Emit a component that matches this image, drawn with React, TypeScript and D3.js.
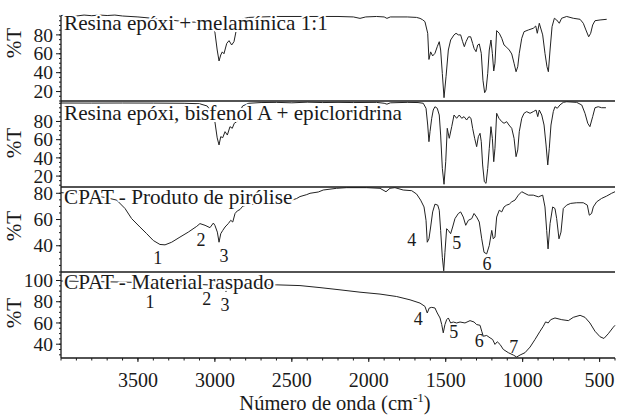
import React from "react";
import * as d3 from "d3";

type Pt = [number, number];

const xTicks = [3500, 3000, 2500, 2000, 1500, 1000, 500];

const titles = [
  "Resina epóxi + melamínica 1:1",
  "Resina epóxi, bisfenol A + epicloridrina",
  "CPAT - Produto de pirólise",
  "CPAT - Material raspado",
];

const yTicks1 = [20, 40, 60, 80];
const yTicks2 = [20, 40, 60, 80];
const yTicks3 = [40, 60, 80];
const yTicks4 = [40, 60, 80, 100];

const spec1: Pt[] = [
  [4000,100.5],[3950,101],[3900,100],[3850,101],[3800,100.3],[3750,101],[3700,100.5],[3650,101],[3600,100],[3500,99],[3400,97.5],[3300,96],[3200,94],[3150,93.5],[3100,93.5],[3060,92],[3030,89],[3010,85],[3000,83],[2985,64],[2973,52.4],[2962,58.7],[2952,62],[2941,60],[2923,71],[2908,73.9],[2891,69.3],[2876,72.8],[2863,83.4],[2854,88.7],[2840,94],[2820,97],[2780,98.5],[2700,99],[2600,99.5],[2400,99.5],[2200,99.5],[2100,99],[2057,97.5],[2020,99],[1950,99.5],[1900,99],[1882,97.5],[1860,99],[1750,99],[1690,98.5],[1667,97.5],[1650,96],[1635,94],[1617,81.7],[1609,54],[1598,62],[1585,57.7],[1570,60.5],[1555,67.5],[1542,72.8],[1533,64],[1522,39],[1511,13.5],[1498,35.7],[1483,64],[1468,74.6],[1446,80],[1433,81.7],[1418,80],[1403,80],[1390,72.8],[1379,67.5],[1368,72.8],[1353,78],[1338,78],[1325,71],[1316,65.8],[1303,62.2],[1292,69.3],[1282,70.4],[1269,60.5],[1258,32],[1247,18.8],[1238,21.6],[1227,39.3],[1217,64],[1206,74.6],[1197,60.5],[1188,41.8],[1180,50],[1169,84.5],[1152,81.7],[1136,76.4],[1121,69.3],[1104,66.9],[1087,64],[1071,59.8],[1056,50],[1043,41],[1032,46.3],[1022,60.5],[1006,76.4],[991,83.4],[963,85.2],[931,87],[915,89.4],[905,81.7],[892,92.3],[870,80],[855,60.5],[842,46.3],[833,41],[822,64],[809,88.7],[794,97.6],[779,95.8],[762,92.3],[747,97.6],[714,99.5],[671,97.6],[627,96.5],[606,92.3],[589,85.2],[571,78],[558,81.7],[545,90.5],[530,95],[497,95.8],[454,96.5],
];

const spec2: Pt[] = [
  [4000,100.3],[3800,100.2],[3600,100.3],[3400,100.2],[3200,100],[3100,99.5],[3050,97],[3020,90],[3000,79.8],[2985,62],[2973,54.2],[2962,63.3],[2949,62.2],[2934,68.8],[2919,65.1],[2902,74.3],[2887,72.5],[2874,78],[2858,79.8],[2840,90],[2820,97],[2780,100],[2700,100.8],[2600,101],[2500,100.5],[2400,101.2],[2300,100.8],[2200,101],[2100,100.8],[1950,101],[1900,100],[1882,99],[1860,100.5],[1750,101],[1680,100.8],[1646,100],[1628,94.5],[1617,76.1],[1609,57.8],[1602,68.8],[1591,83.5],[1581,92.6],[1570,96.2],[1555,94.5],[1542,87.1],[1533,65.1],[1522,28.5],[1511,11],[1500,35.8],[1490,72.5],[1477,61.5],[1461,74.3],[1446,87.1],[1429,83.5],[1412,87.1],[1396,83.5],[1381,85.3],[1364,81.6],[1349,85.3],[1336,83.5],[1325,72.5],[1312,61.5],[1299,52.3],[1288,63.3],[1277,67],[1269,57.8],[1260,32.2],[1249,13.8],[1238,12],[1227,28.5],[1217,50.5],[1206,74.3],[1197,61.5],[1188,35.8],[1180,50.5],[1169,89],[1154,83.5],[1136,79.8],[1121,78],[1104,79.8],[1089,76.1],[1071,72.5],[1056,61.5],[1043,41.3],[1032,48.7],[1022,68.8],[1006,83.5],[991,89],[974,90.8],[952,89],[931,90.8],[913,92.6],[902,85.3],[892,92.6],[876,87.1],[861,76.1],[848,54.2],[837,32.2],[827,50.5],[816,76.1],[801,90.8],[790,96.2],[775,94.5],[758,98.1],[736,101],[714,101.7],[649,101],[616,98.1],[595,89],[577,78],[563,74.3],[545,85.3],[530,95.1],[509,96.2],[487,95.1],[459,95.1],
];

const spec3: Pt[] = [
  [4000,80.5],[3900,79.5],[3800,78.5],[3700,76.5],[3638,74.8],[3584,68.4],[3541,60.7],[3487,54.3],[3443,49.2],[3400,44],[3357,41],[3324,40.7],[3281,42.7],[3227,46.6],[3173,50.4],[3118,54.8],[3097,56.9],[3064,55.6],[3032,53.8],[3010,57.3],[3000,55.6],[2984,50.4],[2973,42.7],[2962,49.2],[2949,51.7],[2934,54.3],[2913,56.9],[2897,59.4],[2884,58.1],[2869,64.6],[2854,66.6],[2837,67.6],[2819,70.2],[2793,71],[2750,71.7],[2685,72],[2600,73],[2520,74],[2469,76],[2447,77.5],[2403,79],[2382,80],[2328,81],[2296,82.5],[2209,83.8],[2144,84.3],[2014,84.3],[1927,83.8],[1888,81.2],[1862,83.8],[1830,84.3],[1776,82.5],[1721,82],[1689,79.4],[1663,74.8],[1641,69.6],[1628,59.4],[1620,42.7],[1609,45.3],[1598,54.3],[1585,65.8],[1570,71.7],[1552,71],[1542,67.1],[1533,51.7],[1522,31.2],[1513,20.9],[1505,35],[1494,53],[1483,51.7],[1468,49.2],[1455,54.3],[1440,60.7],[1418,64.6],[1403,65.8],[1386,61.9],[1370,55.6],[1353,59.4],[1331,60.7],[1316,64.6],[1299,61.9],[1282,58.1],[1266,45.3],[1251,35],[1234,33.8],[1217,40.2],[1201,51.7],[1191,45.3],[1180,46.6],[1169,61.9],[1152,67.1],[1136,65.8],[1121,69.6],[1104,71],[1087,71.7],[1071,73.5],[1050,74.8],[1028,78.6],[1006,81.2],[985,79.9],[963,78.6],[931,78.6],[898,77.3],[870,78.6],[855,69.6],[844,51.7],[835,37.6],[822,56.9],[805,69.6],[790,68.4],[779,60.7],[764,45.3],[751,50.4],[736,68.4],[714,71],[688,72.3],[649,72.8],[606,72.8],[580,71],[567,63.3],[552,64.6],[541,69.6],[519,73.5],[487,76.1],[454,77.9],[422,80],[400,81.2],
];

const spec4: Pt[] = [
  [4000,99.5],[3800,99],[3600,98.5],[3400,97.8],[3200,96.8],[3100,96.3],[3000,95.5],[2975,93],[2960,90.5],[2945,92.5],[2928,89.5],[2910,92.5],[2890,91.5],[2870,93.5],[2850,95],[2800,95.8],[2700,95.9],[2598,95.9],[2447,95.2],[2317,93.3],[2187,91.2],[2057,89],[1927,87.2],[1819,84.9],[1732,81.8],[1667,78.7],[1635,75.6],[1620,69.4],[1607,74.1],[1591,74.7],[1570,74.1],[1555,69.4],[1537,64.7],[1526,58.5],[1516,50.7],[1505,58.5],[1494,63.1],[1483,64.7],[1468,60],[1451,60.9],[1429,60],[1407,60.9],[1375,60],[1342,62.2],[1316,60.9],[1299,58.5],[1277,57.8],[1266,52.2],[1256,47.5],[1234,48.2],[1212,46],[1195,44.4],[1180,39.8],[1165,42.3],[1147,39.8],[1126,35.1],[1093,32],[1061,29.8],[1039,27.9],[1017,29.8],[985,32],[952,37.3],[920,44.4],[887,52.2],[866,56.9],[851,61],[834,60],[818,63.1],[790,64.7],[746,63.1],[703,62.2],[671,65.3],[627,67.2],[595,65.3],[563,60],[530,52.2],[497,47],[472,45.4],[444,49.8],[411,56],[400,57.8],
];

type Peak = { t: string; w: number; v: number };
const peaks3: Peak[] = [
  { t: "1", w: 3371, v: 26.1 },
  { t: "2", w: 3091, v: 40.2 },
  { t: "3", w: 2941, v: 27.3 },
  { t: "4", w: 1721, v: 40.2 },
  { t: "5", w: 1429, v: 37.6 },
  { t: "6", w: 1232, v: 21.3 },
];
const peaks4: Peak[] = [
  { t: "1", w: 3422, v: 74.1 },
  { t: "2", w: 3053, v: 77.2 },
  { t: "3", w: 2934, v: 70.9 },
  { t: "4", w: 1678, v: 58.5 },
  { t: "5", w: 1448, v: 46.3 },
  { t: "6", w: 1282, v: 37 },
  { t: "7", w: 1058, v: 31.4 },
];

const FONT = "'Liberation Serif', 'Times New Roman', serif";
const INK = "#1a1a1a";

const x = d3.scaleLinear().domain([4000, 400]).range([61, 615]);

const panels = [
  { spec: spec1, ticks: yTicks1, domain: [10, 100], range: [101, 16], title: titles[0], peaks: [] as Peak[], labelY: 43, titleDy: 13.5 },
  { spec: spec2, ticks: yTicks2, domain: [8, 102.5], range: [187, 101], title: titles[1], peaks: [] as Peak[], labelY: 143, titleDy: 18.5 },
  { spec: spec3, ticks: yTicks3, domain: [20, 84.8], range: [272, 187], title: titles[2], peaks: peaks3, labelY: 226, titleDy: 16.5 },
  { spec: spec4, ticks: yTicks4, domain: [27, 108], range: [358, 272], title: titles[3], peaks: peaks4, labelY: 313, titleDy: 16.5 },
];

export default function App() {
  const minorX = d3.range(4000, 399, -100);
  return (
    <svg width={617} height={417} style={{ position: "absolute", left: 0, top: 0, background: "#fff" }} fontFamily={FONT}>
      <rect x={0} y={0} width={617} height={417} fill="#fff" />
      {panels.map((p, i) => {
        const y = d3.scaleLinear().domain(p.domain).range(p.range);
        const line = d3.line<Pt>().x((d) => x(d[0])).y((d) => y(d[1]));
        const minor = d3.range(Math.ceil(p.domain[0] / 5) * 5, p.domain[1] + 0.01, 5);
        return (
          <g key={i}>
            <path d={line(p.spec) || ""} fill="none" stroke="#222" strokeWidth={1} strokeLinejoin="round" />
            {minor.map((v) => (
              <line key={"m" + v} x1={59} x2={61} y1={y(v)} y2={y(v)} stroke={INK} strokeWidth={1} />
            ))}
            {p.ticks.map((v) => (
              <g key={"t" + v}>
                <line x1={56} x2={61} y1={y(v)} y2={y(v)} stroke={INK} strokeWidth={1} />
                <text x={53} y={y(v)} dy="0.34em" textAnchor="end" fontSize={19.5} fill={INK}>{v}</text>
              </g>
            ))}
            <text
              transform={`translate(21,${p.labelY}) rotate(-90)`}
              textAnchor="middle"
              fontSize={21}
              fill={INK}
            >%T</text>
            <text x={64} y={p.range[1] + p.titleDy} fontSize={21.2} fill={INK} stroke="#fff" strokeWidth={4} paintOrder="stroke" strokeLinejoin="round">
              {p.title}
            </text>
            {p.peaks.map((k) => (
              <text key={k.t} x={x(k.w)} y={y(k.v)} textAnchor="middle" fontSize={18} fill={INK}>{k.t}</text>
            ))}
            {i > 0 && <line x1={61} x2={615} y1={p.range[1]} y2={p.range[1]} stroke={INK} strokeWidth={1.3} />}
          </g>
        );
      })}
      <line x1={61} x2={61} y1={16} y2={358} stroke={INK} strokeWidth={1.3} />
      <line x1={61} x2={615} y1={358} y2={358} stroke={INK} strokeWidth={1.3} />
      {minorX.map((w) => (
        <line key={"xm" + w} x1={x(w)} x2={x(w)} y1={358} y2={360.5} stroke={INK} strokeWidth={1} />
      ))}
      {xTicks.map((w) => (
        <g key={"xt" + w}>
          <line x1={x(w)} x2={x(w)} y1={358} y2={362} stroke={INK} strokeWidth={1} />
          <text x={x(w)} y={386.5} textAnchor="middle" fontSize={20} fill={INK}>{w}</text>
        </g>
      ))}
      <text x={335} y={410} textAnchor="middle" fontSize={20.5} fill={INK}>
        Número de onda (cm<tspan fontSize={13} dy={-8}>-1</tspan><tspan dy={8}>)</tspan>
      </text>
    </svg>
  );
}
